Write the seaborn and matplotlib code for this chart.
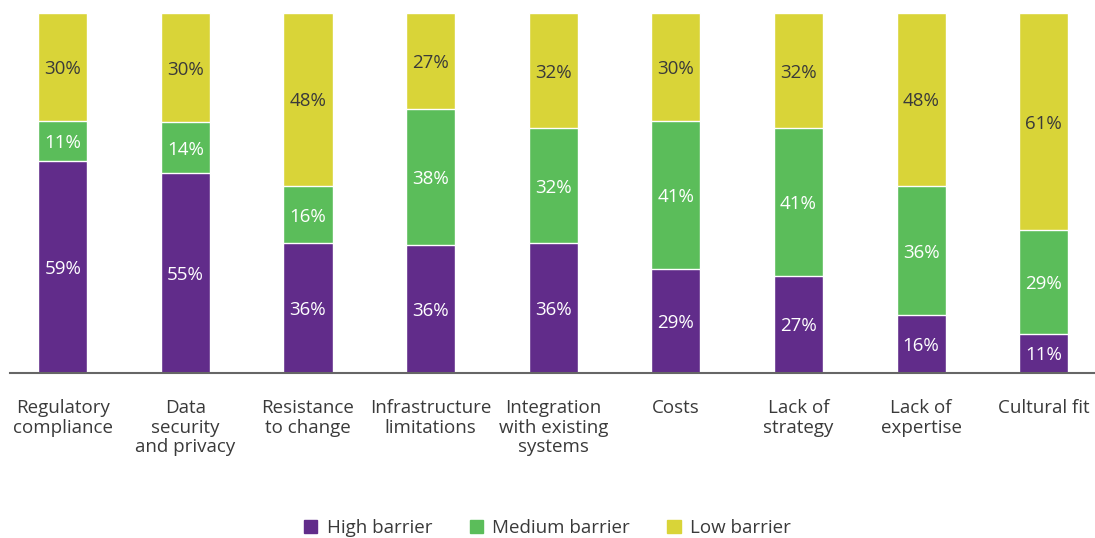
import matplotlib.pyplot as plt
import pandas as pd
import seaborn as sns
from matplotlib.patches import Patch

categories = ["Regulatory\ncompliance", "Data\nsecurity\nand privacy", "Resistance\nto change",
              "Infrastructure\nlimitations", "Integration\nwith existing\nsystems", "Costs",
              "Lack of\nstrategy", "Lack of\nexpertise", "Cultural fit"]
high = [59, 55, 36, 36, 36, 29, 27, 16, 11]
medium = [11, 14, 16, 38, 32, 41, 41, 36, 29]
low = [30, 30, 48, 27, 32, 30, 32, 48, 61]

PURPLE = "#612c8a"
GREEN = "#5bbd5a"
YELLOW = "#d9d438"


def main():
    sns.set_style("white")
    plt.rcParams["font.family"] = ["Open Sans", "DejaVu Sans"]

    df = pd.DataFrame({"cat": categories, "high": high, "medium": medium, "low": low})
    # bars are shown as shares of 100%
    total = df["high"] + df["medium"] + df["low"]
    df["h"] = df["high"] / total * 100
    df["m"] = df["medium"] / total * 100
    df["l"] = df["low"] / total * 100
    df["mid_top"] = df["h"] + df["m"]
    df["top"] = df["mid_top"] + df["l"]

    fig = plt.figure(figsize=(10.95, 5.38), dpi=100)
    ax = fig.add_axes([10 / 1095, 165 / 538, 1084 / 1095, 360 / 538])

    # stacked bars drawn as cumulative layers
    sns.barplot(data=df, x="cat", y="top", color=YELLOW, width=0.4, saturation=1, ax=ax)
    sns.barplot(data=df, x="cat", y="mid_top", color=GREEN, width=0.4, saturation=1, ax=ax)
    sns.barplot(data=df, x="cat", y="h", color=PURPLE, width=0.4, saturation=1, ax=ax)

    fs = 13.5
    for i, row in df.iterrows():
        ax.text(i, row["h"] / 2, f"{row['high']}%", ha="center", va="center_baseline",
                color="white", fontsize=fs)
        ax.text(i, row["h"] + row["m"] / 2, f"{row['medium']}%", ha="center",
                va="center_baseline", color="white", fontsize=fs)
        ax.text(i, row["mid_top"] + row["l"] / 2, f"{row['low']}%", ha="center",
                va="center_baseline", color="#3a3a3a", fontsize=fs)

    ax.set_xlim(-0.43, 8.41)
    ax.set_ylim(0, 100)
    ax.set_xlabel("")
    ax.set_ylabel("")
    ax.set_yticks([])
    for s in ["top", "right", "left"]:
        ax.spines[s].set_visible(False)
    ax.spines["bottom"].set_color("#666666")
    ax.spines["bottom"].set_linewidth(1.5)
    ax.tick_params(axis="x", length=0, pad=19, labelsize=13.5, labelcolor="#3a3a3a")
    for lbl in ax.get_xticklabels():
        lbl.set_linespacing(1.1)
        lbl.set_va("top")

    handles = [Patch(color=PURPLE, label="High barrier"),
               Patch(color=GREEN, label="Medium barrier"),
               Patch(color=YELLOW, label="Low barrier")]
    leg = fig.legend(handles=handles, loc="lower center", bbox_to_anchor=(0.5, -0.03), ncol=3,
                     frameon=False, fontsize=13.5, handlelength=0.7, handleheight=0.7,
                     handletextpad=0.5, columnspacing=2.0)
    for t in leg.get_texts():
        t.set_color("#3a3a3a")

    fig.savefig("out.png", dpi=100)


if __name__ == "__main__":
    main()
